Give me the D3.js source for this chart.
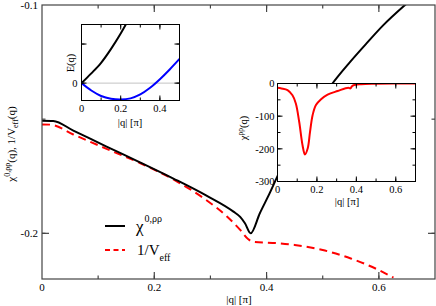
<!DOCTYPE html>
<html><head><meta charset="utf-8">
<script src="https://cdn.jsdelivr.net/npm/d3@7"></script>
<style>body{margin:0;background:#fff}svg{display:block}</style>
</head><body>
<svg id="c" width="436" height="306"></svg>
<script>
// ---- main panel data ----
const chiQ   = [0, 0.02, 0.0558, 0.115, 0.1745, 0.234, 0.293, 0.341, 0.353, 0.3615, 0.3716, 0.388, 0.406, 0.421, 0.47, 0.517, 0.5485, 0.578, 0.608, 0.6465, 0.67];
const chiVal = [-0.1507, -0.1508, -0.1550, -0.1620, -0.1689, -0.1760, -0.1835, -0.1905, -0.1928, -0.1956, -0.2000, -0.1912, -0.1822, -0.1742, -0.1530, -0.1345, -0.1250, -0.1168, -0.1088, -0.1000, -0.0950];
const veffQ   = [0, 0.015, 0.0558, 0.115, 0.1745, 0.234, 0.293, 0.329, 0.353, 0.367, 0.376, 0.424, 0.45, 0.5, 0.55, 0.6, 0.626];
const veffVal = [-0.1523, -0.1524, -0.1567, -0.1630, -0.1692, -0.1764, -0.1855, -0.1925, -0.1985, -0.2025, -0.2037, -0.2044, -0.2051, -0.2073, -0.2110, -0.2161, -0.2194];
const mainXTicks = [0, 0.2, 0.4, 0.6];
const mainYTicks = [-0.2, -0.1];
// ---- inset 1: E(q) ----
const eQ = [0, 0.05, 0.1, 0.15, 0.2, 0.25];
const eUpper = [0, 0.25, 0.52, 0.87, 1.27, 1.72];
const eLowQ = [0, 0.05, 0.1, 0.15, 0.2, 0.25, 0.3, 0.35, 0.4, 0.45, 0.5];
const eLower = [0, -0.19, -0.33, -0.40, -0.42, -0.39, -0.29, -0.12, 0.1, 0.35, 0.62];
const in1XTicks = [0, 0.2, 0.4];
// ---- inset 2: chi^pp(q) ----
const ppQ   = [0, 0.02, 0.051, 0.076, 0.093, 0.110, 0.127, 0.139, 0.153, 0.165, 0.178, 0.195, 0.221, 0.254, 0.305, 0.359, 0.370, 0.380, 0.424, 0.5, 0.6, 0.7];
const ppVal = [-13, -15, -20, -36, -61, -117, -189, -217, -199, -148, -97, -66, -48, -34, -23, -13, -15, -7, -2, -0.5, 0, 0];
const in2XTicks = [0, 0.2, 0.4, 0.6];
const in2YTicks = [-300, -200, -100, 0];

const FONT = "Liberation Serif";
const svg = d3.select("#c");

function panel(o){
  const g = svg.append("g");
  const x = d3.scaleLinear().domain(o.xd).range([o.x0, o.x1]);
  const y = d3.scaleLinear().domain(o.yd).range([o.y1, o.y0]);
  const id = "clip" + Math.random().toString(36).slice(2);
  svg.append("clipPath").attr("id", id).append("rect")
    .attr("x", o.x0).attr("y", o.y0).attr("width", o.x1 - o.x0).attr("height", o.y1 - o.y0);
  if (o.fill) g.append("rect").attr("x", o.x0).attr("y", o.y0).attr("width", o.x1 - o.x0).attr("height", o.y1 - o.y0).attr("fill", "#fff");
  const plot = g.append("g").attr("clip-path", `url(#${id})`);
  const frame = g.append("g");
  const sc = o.frameColor || "#000", sw = o.frameWidth || 1;
  const tk = (vals, len, axis) => {
    vals.forEach(v => {
      if (axis === "x") {
        const px = x(v);
        frame.append("line").attr("x1", px).attr("x2", px).attr("y1", o.y1).attr("y2", o.y1 - len).attr("stroke", sc).attr("stroke-width", sw);
        frame.append("line").attr("x1", px).attr("x2", px).attr("y1", o.y0).attr("y2", o.y0 + len).attr("stroke", sc).attr("stroke-width", sw);
      } else {
        const py = y(v);
        frame.append("line").attr("x1", o.x0).attr("x2", o.x0 + len).attr("y1", py).attr("y2", py).attr("stroke", sc).attr("stroke-width", sw);
        frame.append("line").attr("x1", o.x1).attr("x2", o.x1 - len).attr("y1", py).attr("y2", py).attr("stroke", sc).attr("stroke-width", sw);
      }
    });
  };
  tk(d3.range(o.xd[0], o.xd[1] + 1e-9, o.xMinor).filter(v => v > o.xd[0] + 1e-9 && v < o.xd[1] - 1e-9), o.minorLen, "x");
  tk(d3.range(o.yTickStart, o.yd[1] + 1e-9, o.yMinor).filter(v => v > o.yd[0] + 1e-9 && v < o.yd[1] - 1e-9), o.minorLen, "y");
  tk(o.xMajor.filter(v => v > o.xd[0] + 1e-9 && v < o.xd[1] - 1e-9), o.majorLen, "x");
  tk(o.yMajor.filter(v => v > o.yd[0] + 1e-9 && v < o.yd[1] - 1e-9), o.majorLen, "y");
  frame.append("rect").attr("x", o.x0).attr("y", o.y0).attr("width", o.x1 - o.x0).attr("height", o.y1 - o.y0)
    .attr("fill", "none").attr("stroke", sc).attr("stroke-width", sw);
  o.xLabels.forEach(v => g.append("text").attr("x", x(v)).attr("y", o.y1 + o.xLabDy).attr("text-anchor", "middle")
    .attr("font-size", o.fs).text(o.xFmt(v)));
  o.yLabels.forEach(v => g.append("text").attr("x", o.x0 - o.yLabDx).attr("y", y(v)).attr("dy", "0.35em").attr("text-anchor", "end")
    .attr("font-size", o.fs).text(o.yFmt(v)));
  return {g, plot, x, y};
}

// ---- main ----
const M = panel({x0: 42, x1: 435, y0: 5, y1: 279, xd: [0, 0.7], yd: [-0.22, -0.1], yTickStart: -0.25,
  xMinor: 0.1, yMinor: 0.05, xMajor: mainXTicks, yMajor: mainYTicks, majorLen: 7, minorLen: 3.5,
  xLabels: mainXTicks, yLabels: mainYTicks, xLabDy: 12, yLabDx: 4, fs: 11,
  xFmt: v => v === 0 ? "0" : d3.format(".1f")(v), yFmt: v => d3.format(".1f")(v).replace("−", "-"),
  frameColor: "#444", frameWidth: 1.2});

const lineM = d3.line().curve(d3.curveMonotoneX);
M.plot.append("path").attr("d", lineM(veffQ.map((q, i) => [M.x(q), M.y(veffVal[i])])))
  .attr("fill", "none").attr("stroke", "#f00").attr("stroke-width", 2).attr("stroke-dasharray", "8,5");
M.plot.append("path").attr("d", lineM(chiQ.map((q, i) => [M.x(q), M.y(chiVal[i])])))
  .attr("fill", "none").attr("stroke", "#000").attr("stroke-width", 2);

svg.append("text").attr("x", 239).attr("y", 303).attr("text-anchor", "middle").attr("font-size", 11).text("|q| [π]");
const yl = svg.append("text").attr("transform", "translate(15,144) rotate(-90)").attr("text-anchor", "middle").attr("font-size", 11);
yl.append("tspan").text("χ");
yl.append("tspan").attr("font-size", 8).attr("dy", -5).text("0,ρρ");
yl.append("tspan").attr("dy", 5).text("(q), 1/V");
yl.append("tspan").attr("font-size", 8).attr("dy", 3).text("eff");
yl.append("tspan").attr("dy", -3).text("(q)");

// legend
svg.append("line").attr("x1", 105).attr("x2", 125).attr("y1", 226).attr("y2", 226).attr("stroke", "#000").attr("stroke-width", 2);
const l1 = svg.append("text").attr("x", 136).attr("y", 232).attr("font-size", 17);
l1.append("tspan").text("χ");
l1.append("tspan").attr("font-size", 10).attr("dy", -10).attr("dx", 1).text("0,ρρ");
svg.append("line").attr("x1", 105).attr("x2", 125).attr("y1", 250).attr("y2", 250).attr("stroke", "#f00").attr("stroke-width", 2).attr("stroke-dasharray", "5,3.5");
const l2 = svg.append("text").attr("x", 137).attr("y", 255).attr("font-size", 15);
l2.append("tspan").text("1/V");
l2.append("tspan").attr("font-size", 10).attr("dy", 6).text("eff");

// ---- inset 1 ----
const A = panel({x0: 81.5, x1: 179.5, y0: 24.5, y1: 100.5, xd: [0, 0.5], yd: [-0.445, 1.5], yTickStart: 0,
  xMinor: 0.1, yMinor: 1, xMajor: in1XTicks, yMajor: [0, 1], majorLen: 5, minorLen: 3,
  xLabels: in1XTicks, yLabels: [0], xLabDy: 11, yLabDx: 4, fs: 10.5,
  xFmt: v => v === 0 ? "0" : d3.format(".1f")(v), yFmt: v => "0", fill: true});
A.plot.append("line").attr("x1", A.x(0)).attr("x2", A.x(0.5)).attr("y1", A.y(0)).attr("y2", A.y(0))
  .attr("stroke", "#888").attr("stroke-width", 1).attr("stroke-dasharray", "1,1");
const lineC = d3.line().curve(d3.curveCatmullRom.alpha(0.5));
A.plot.append("path").attr("d", lineC(eQ.map((q, i) => [A.x(q), A.y(eUpper[i])]))).attr("fill", "none").attr("stroke", "#000").attr("stroke-width", 2);
A.plot.append("path").attr("d", lineC(eLowQ.map((q, i) => [A.x(q), A.y(eLower[i])]))).attr("fill", "none").attr("stroke", "#00f").attr("stroke-width", 2);
svg.append("text").attr("x", 130).attr("y", 126).attr("text-anchor", "middle").attr("font-size", 10.5).text("|q| [π]");
svg.append("text").attr("transform", "translate(74,63) rotate(-90)").attr("text-anchor", "middle").attr("font-size", 10.5).text("E(q)");

// ---- inset 2 ----
const B = panel({x0: 277.5, x1: 415.5, y0: 83.5, y1: 181.5, xd: [0, 0.7], yd: [-300, 0], yTickStart: -300,
  xMinor: 0.1, yMinor: 50, xMajor: in2XTicks, yMajor: in2YTicks, majorLen: 5, minorLen: 3,
  xLabels: in2XTicks, yLabels: in2YTicks, xLabDy: 11, yLabDx: 3, fs: 10.5,
  xFmt: v => v === 0 ? "0" : d3.format(".1f")(v), yFmt: v => String(v), fill: true});
B.plot.append("path").attr("d", lineC(ppQ.map((q, i) => [B.x(q), B.y(ppVal[i])]))).attr("fill", "none").attr("stroke", "#f00").attr("stroke-width", 2);
svg.append("text").attr("x", 347).attr("y", 205).attr("text-anchor", "middle").attr("font-size", 10.5).text("|q| [π]");
const y2 = svg.append("text").attr("transform", "translate(247,128) rotate(-90)").attr("text-anchor", "middle").attr("font-size", 10.5);
y2.append("tspan").text("χ");
y2.append("tspan").attr("font-size", 7.5).attr("dy", -4).text("ρρ");
y2.append("tspan").attr("dy", 4).text("(q)");

svg.selectAll("text").attr("font-family", FONT);
</script>
</body></html>
